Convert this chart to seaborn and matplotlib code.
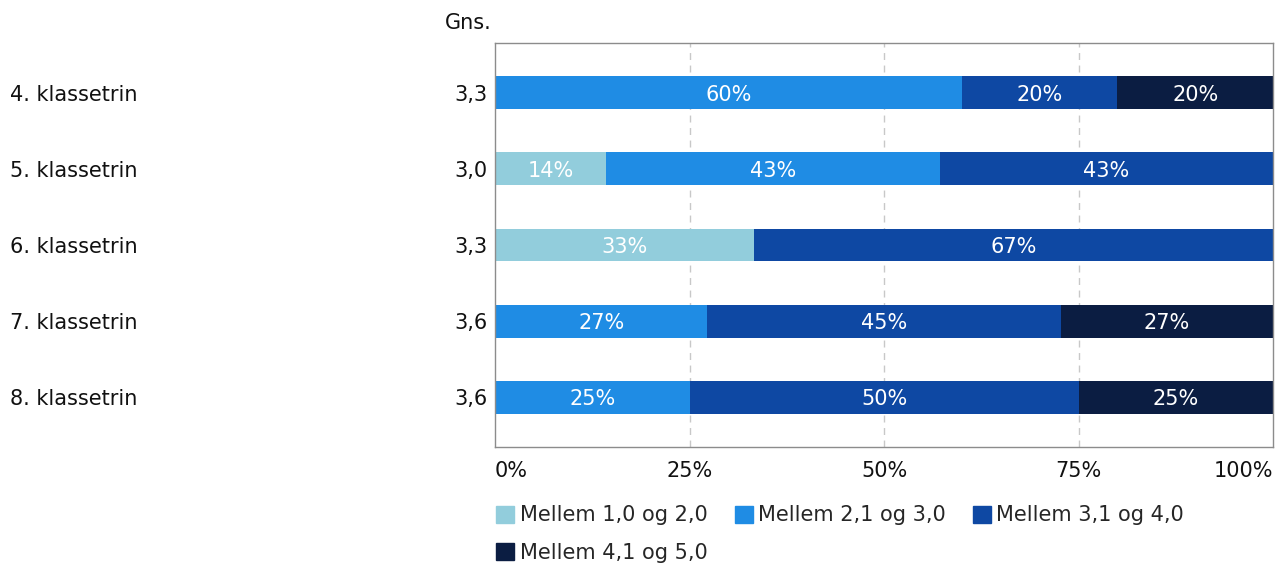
import numpy as np
import pandas as pd
import matplotlib
matplotlib.use('Agg')
import matplotlib.pyplot as plt
import seaborn as sns

grades = ['4. klassetrin', '5. klassetrin', '6. klassetrin', '7. klassetrin', '8. klassetrin']
averages = ['3,3', '3,0', '3,3', '3,6', '3,6']
series_names = ['Mellem 1,0 og 2,0', 'Mellem 2,1 og 3,0', 'Mellem 3,1 og 4,0', 'Mellem 4,1 og 5,0']
s1 = [0, 14.3, 33.3, 0, 0]
s2 = [60, 42.85, 0, 27.3, 25]
s3 = [20, 42.85, 66.7, 45.4, 50]
s4 = [20, 0, 0, 27.3, 25]
colors = ['#92cddc', '#1f8ce4', '#0e48a3', '#0b1d42']

sns.set_style('white')
plt.rcParams['font.family'] = ['DejaVu Sans']
FS = 15

df = pd.DataFrame({'grade': grades, 's1': s1, 's2': s2, 's3': s3, 's4': s4})
cols = ['s1', 's2', 's3', 's4']
cum = df[cols].cumsum(axis=1)

fig = plt.figure(figsize=(12.75, 5.66), dpi=100)
ax = fig.add_axes([495 / 1275, 1 - 447 / 566, 778 / 1275, 404 / 566])

# stacked bars: draw cumulative totals from the largest down
for i in range(3, -1, -1):
    sns.barplot(x=cum[cols[i]], y=df['grade'], color=colors[i], width=0.43,
                orient='h', ax=ax, saturation=1, edgecolor='none')

# value labels in the middle of each segment
for r in range(len(grades)):
    left = 0
    for i, c in enumerate(cols):
        v = df.loc[r, c]
        if v > 0:
            ax.text(left + v / 2, r, f'{v:.0f}%', ha='center', va='center_baseline',
                    color='white', fontsize=FS)
        left += v

ax.set_xlim(0, 100)
ax.set_ylim(len(grades) - 1 + 0.65, -0.65)
ax.set_xlabel('')
ax.set_ylabel('')
ax.set_yticks([])
ax.set_xticks([0, 25, 50, 75, 100])
ax.set_xticklabels(['0%', '25%', '50%', '75%', '100%'], fontsize=FS, color='#111111')
ticklabs = ax.get_xticklabels()
ticklabs[0].set_ha('left')
ticklabs[-1].set_ha('right')
ax.tick_params(axis='x', length=0, pad=10)

for x in [25, 50, 75]:
    ax.axvline(x, color='#c8c8c8', lw=1, ls=(0, (5, 4)), zorder=0)
ax.set_axisbelow(True)
for sp in ax.spines.values():
    sp.set_visible(True)
    sp.set_color('#8c8c8c')
    sp.set_linewidth(1)

# category names and averages outside the plot
for r, (g, a) in enumerate(zip(grades, averages)):
    ax.annotate(g, xy=(10 / 1275, r), xycoords=('figure fraction', 'data'),
                ha='left', va='center_baseline', fontsize=FS, color='#111111')
    ax.annotate(a, xy=(488 / 1275, r), xycoords=('figure fraction', 'data'),
                ha='right', va='center_baseline', fontsize=FS, color='#111111')
fig.text(492 / 1275, 1 - 23 / 566, 'Gns.', ha='right', va='center', fontsize=FS, color='#111111')

handles = [plt.Rectangle((0, 0), 1, 1, color=c) for c in colors]
order = [0, 3, 1, 2]
fig.legend([handles[i] for i in order], [series_names[i] for i in order],
           ncol=3, loc='upper left', bbox_to_anchor=(488 / 1275, 1 - 497 / 566),
           frameon=False, fontsize=FS, handlelength=0.87, handleheight=0.87,
           handletextpad=0.25, columnspacing=1.3, labelspacing=0.83, borderaxespad=0)

fig.savefig('out.png', dpi=100)
